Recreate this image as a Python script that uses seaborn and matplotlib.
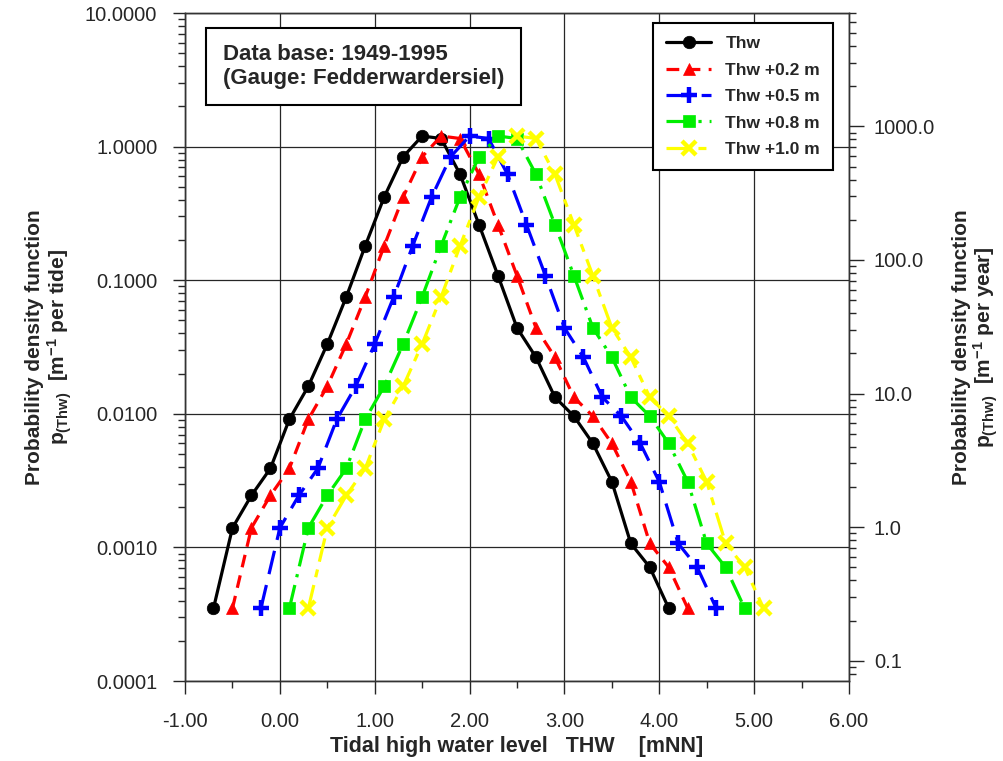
import numpy as np
import pandas as pd
import matplotlib
matplotlib.use('Agg')
import matplotlib.pyplot as plt
import matplotlib.ticker as mticker
import seaborn as sns

# ----
# Data
# ----
# tidal high water level (m NN) for the observed series
thw_level = [-0.7, -0.5, -0.3, -0.1, 0.1, 0.3, 0.5, 0.7, 0.9, 1.1, 1.3, 1.5, 1.7,
             1.9, 2.1, 2.3, 2.5, 2.7, 2.9, 3.1, 3.3, 3.5, 3.7, 3.9, 4.1]
# probability density per tide
thw_pdf = [0.00035, 0.0014, 0.00245, 0.0039, 0.0091, 0.0161, 0.0333, 0.075,
           0.181, 0.42, 0.84, 1.2, 1.15, 0.62, 0.26, 0.108, 0.044, 0.0265,
           0.0133, 0.0096, 0.006, 0.0031, 0.00107, 0.00071, 0.00035]
# level offsets of the scenario series (m)
series_names = ['Thw', 'Thw +0.2 m', 'Thw +0.5 m', 'Thw +0.8 m', 'Thw +1.0 m']
series_offsets = [0.0, 0.2, 0.5, 0.8, 1.0]
tides_per_year = 705.8

xticks = [-1, 0, 1, 2, 3, 4, 5, 6]
yticks = [0.0001, 0.001, 0.01, 0.1, 1, 10]
yticks_right = [0.1, 1, 10, 100, 1000]

# -----
# Style
# -----
sns.set_style('ticks')
plt.rcParams['font.family'] = ['Liberation Sans', 'DejaVu Sans']
plt.rcParams['mathtext.fontset'] = 'custom'
plt.rcParams['mathtext.rm'] = 'Liberation Sans'
plt.rcParams['mathtext.bf'] = 'Liberation Sans:bold'
plt.rcParams['mathtext.it'] = 'Liberation Sans:italic'

colors = ['black', '#ff0000', '#0000ff', '#00ee00', '#ffff00']
markers = ['o', '^', '+', 's', 'x']
msizes = [9, 9, 11, 9, 10]
mews = [0.5, 0.5, 3.2, 0.5, 3.2]
dashes = ['-', (0, (4, 2.6)), (0, (7.5, 3.5)), (0, (7.5, 2.5, 1, 2.5)), (0, (7.5, 2.5, 2.5, 2.5))]

rows = []
for name, off in zip(series_names, series_offsets):
    for lv, p in zip(thw_level, thw_pdf):
        rows.append({'series': name, 'level': round(lv + off, 2), 'pdf': p})
df = pd.DataFrame(rows)

fig, ax = plt.subplots(figsize=(10.04, 7.61), dpi=100)
fig.subplots_adjust(left=0.1843, right=0.8456, top=0.9829, bottom=0.1051)

for name, c, m, ms, mew, ls in zip(series_names, colors, markers, msizes, mews, dashes):
    sub = df[df['series'] == name]
    sns.lineplot(data=sub, x='level', y='pdf', ax=ax, color=c, marker=m,
                 markersize=ms, markeredgecolor=c, markeredgewidth=mew,
                 linewidth=2.3, linestyle=ls, label=name, sort=False)

ax.set_yscale('log')
ax.set_xlim(-1, 6)
ax.set_ylim(0.0001, 10)
ax.set_xticks(xticks)
ax.xaxis.set_major_formatter(mticker.FormatStrFormatter('%.2f'))
ax.xaxis.set_minor_locator(mticker.MultipleLocator(0.5))
ax.set_yticks(yticks)
ax.yaxis.set_major_formatter(mticker.FormatStrFormatter('%.4f'))
ax.yaxis.set_minor_locator(mticker.LogLocator(base=10, subs=np.arange(2, 10)))
ax.yaxis.set_minor_formatter(mticker.NullFormatter())
ax.grid(which='major', color='0.15', linewidth=0.9)
ax.tick_params(axis='both', which='major', labelsize=14.5, length=9, width=1, direction='out')
ax.tick_params(axis='y', which='major', pad=11)
ax.tick_params(axis='x', which='major', pad=13)
ax.tick_params(axis='both', which='minor', length=5, width=1, direction='out')
for s in ax.spines.values():
    s.set_linewidth(1.0)
    s.set_color('0.2')

ax.set_xlabel('Tidal high water level   THW    [mNN]', fontsize=15.5, fontweight='bold', labelpad=4)
ax.set_ylabel('Probability density function\n' + r'p$_{\mathbf{(Thw)}}$  [m$^{\mathbf{-1}}$ per tide]',
              fontsize=15, fontweight='bold', labelpad=8, linespacing=1.05)

# right axis in events per year
ax2 = ax.twinx()
ax2.set_yscale('log')
ax2.set_ylim(0.0001 * tides_per_year, 10 * tides_per_year)
ax2.set_yticks(yticks_right)
ax2.yaxis.set_major_formatter(mticker.FormatStrFormatter('%.1f'))
ax2.yaxis.set_minor_locator(mticker.LogLocator(base=10, subs=np.arange(2, 10)))
ax2.yaxis.set_minor_formatter(mticker.NullFormatter())
ax2.tick_params(axis='y', which='major', labelsize=14.5, length=11, width=1, pad=7)
ax2.tick_params(axis='y', which='minor', length=5, width=1)
ax2.set_ylabel('Probability density function\n' + r'p$_{\mathbf{(Thw)}}$  [m$^{\mathbf{-1}}$ per year]',
               fontsize=15, fontweight='bold', labelpad=12, linespacing=1.05)
for s in ax2.spines.values():
    s.set_linewidth(1.0)
    s.set_color('0.2')

ax.text(0.057, 0.953, 'Data base: 1949-1995\n(Gauge: Fedderwardersiel)', transform=ax.transAxes,
        fontsize=16, fontweight='bold', va='top', ha='left', linespacing=1.15,
        bbox=dict(boxstyle='square,pad=0.75', fc='white', ec='black', lw=1.5), zorder=5)

leg = ax.legend(loc='upper right', bbox_to_anchor=(0.976, 0.985), borderaxespad=0,
                prop={'weight': 'bold', 'size': 12.5}, fancybox=False, framealpha=1,
                edgecolor='black', handlelength=2.6, labelspacing=0.65, borderpad=0.75)
leg.get_frame().set_linewidth(1.5)
leg.set_zorder(6)

fig.savefig('out.png', dpi=100)
